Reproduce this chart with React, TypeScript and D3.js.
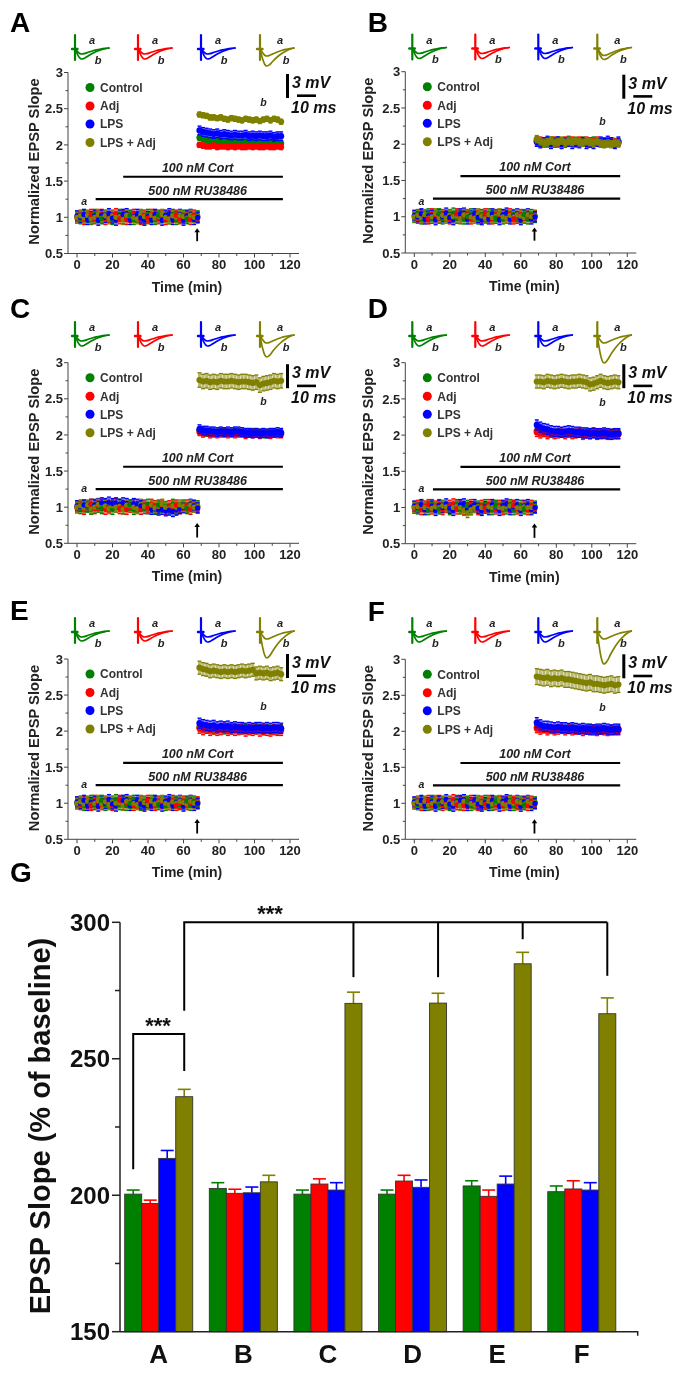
import React from "react";
import * as d3 from "d3";

const seriesNames = ["Control", "Adj", "LPS", "LPS + Adj"];
const seriesColors = ["#008000", "#ff0000", "#0000ff", "#808000"];
const panelIds = ["A", "B", "C", "D", "E", "F"];

// time axis of the slope panels
const baselineTimes = d3.range(0, 69, 2);
const postTimes = d3.range(69, 117, 2);
const timeTicks = [0, 20, 40, 60, 80, 100, 120];
const timeMinorTicks = [10, 30, 50, 70, 90, 110];
const slopeTicks = [0.5, 1, 1.5, 2, 2.5, 3];
const slopeMinorTicks = [0.75, 1.25, 1.75, 2.25, 2.75];

// baseline traces, 0-68 min
const baseControl = [1.01, 0.98, 1.03, 1.0, 0.97, 1.04, 1.0, 0.98, 1.03, 1.01, 0.97, 1.0, 1.04, 0.98, 1.01, 1.03, 0.97, 1.0, 1.02, 0.98, 1.04, 1.0, 0.97, 1.03, 1.0, 1.01, 0.98, 1.04, 0.97, 1.0, 1.03, 0.98, 1.01, 1.0, 1.02];
const baseAdj = [0.99, 1.03, 0.97, 1.02, 1.04, 0.98, 1.02, 1.04, 0.97, 1.0, 1.03, 1.05, 0.98, 1.02, 0.97, 1.0, 1.04, 1.01, 0.97, 1.03, 0.99, 1.04, 1.02, 0.98, 1.03, 0.97, 1.02, 1.0, 1.03, 0.98, 0.99, 1.03, 0.97, 1.03, 0.99];
const baseLps = [1.02, 1.0, 1.04, 0.97, 1.01, 1.02, 0.96, 1.03, 1.0, 1.05, 0.99, 0.96, 1.02, 1.04, 1.05, 0.97, 1.01, 1.04, 0.99, 0.96, 1.01, 0.97, 1.04, 1.01, 0.96, 1.03, 1.05, 0.97, 1.01, 1.04, 0.96, 1.02, 1.04, 0.97, 1.0];
const baseOlive = [1.0, 1.02, 0.99, 1.03, 0.98, 1.0, 1.04, 0.99, 1.02, 0.98, 1.02, 1.0, 1.01, 0.97, 1.03, 1.02, 1.0, 0.98, 1.04, 1.01, 0.98, 1.03, 0.99, 1.01, 1.04, 1.0, 0.98, 1.02, 1.0, 1.03, 1.01, 0.99, 1.03, 1.0, 1.01];
const baseLpsC = [1.02, 1.01, 1.03, 1.02, 1.04, 1.03, 1.05, 1.06, 1.05, 1.07, 1.05, 1.06, 1.04, 1.06, 1.05, 1.03, 1.05, 1.04, 1.02, 1.01, 0.98, 0.97, 0.98, 0.96, 0.97, 0.95, 0.96, 0.94, 0.96, 0.98, 1.0, 0.99, 1.04, 1.02, 0.99];
const baseOliveD = [1.0, 1.01, 1.03, 1.0, 1.02, 0.99, 1.01, 1.0, 1.02, 1.01, 0.99, 1.0, 1.02, 1.0, 0.96, 0.93, 0.97, 1.0, 1.01, 1.0, 0.99, 1.01, 1.0, 1.02, 1.0, 0.99, 1.01, 1.02, 1.03, 1.0, 0.99, 1.01, 1.0, 1.0, 1.01];

// after the arrow, 69-115 min
const postControlA = [2.1, 2.08, 2.07, 2.06, 2.06, 2.05, 2.05, 2.04, 2.05, 2.04, 2.04, 2.03, 2.04, 2.03, 2.03, 2.04, 2.03, 2.03, 2.02, 2.03, 2.03, 2.02, 2.03, 2.02];
const postAdjA = [2.0, 1.99, 1.98, 1.98, 1.99, 1.97, 1.98, 1.98, 1.97, 1.98, 1.97, 1.98, 1.97, 1.97, 1.98, 1.97, 1.98, 1.97, 1.97, 1.98, 1.97, 1.97, 1.98, 1.97];
const postLpsA = [2.2, 2.18, 2.17, 2.16, 2.15, 2.16, 2.14, 2.15, 2.14, 2.13, 2.14, 2.13, 2.13, 2.14, 2.12, 2.13, 2.12, 2.13, 2.12, 2.12, 2.13, 2.11, 2.12, 2.12];
const postOliveA = [2.42, 2.41, 2.4, 2.38, 2.38, 2.37, 2.38, 2.36, 2.35, 2.37, 2.36, 2.35, 2.34, 2.36, 2.35, 2.34, 2.35, 2.33, 2.35, 2.36, 2.34, 2.36, 2.35, 2.32];

const postControlB = [2.06, 2.02, 2.04, 2.01, 2.05, 2.03, 2.05, 2.02, 2.04, 2.06, 2.02, 2.04, 2.03, 2.05, 2.02, 2.04, 2.05, 2.02, 2.03, 2.01, 2.03, 2.02, 2.01, 2.03];
const postAdjB = [2.04, 2.05, 2.01, 2.04, 2.02, 2.05, 2.01, 2.04, 2.05, 2.02, 2.05, 2.01, 2.05, 2.02, 2.05, 2.01, 2.03, 2.05, 2.01, 2.04, 2.02, 2.04, 2.03, 2.02];
const postLpsB = [2.03, 2.01, 2.03, 2.05, 2.0, 2.02, 2.04, 2.0, 2.02, 2.03, 2.0, 2.03, 2.01, 2.03, 2.0, 2.02, 2.0, 2.03, 2.04, 2.02, 2.05, 2.03, 2.0, 2.04];
const postOliveB = [2.07, 2.04, 2.02, 2.03, 2.05, 2.02, 2.03, 2.05, 2.02, 2.04, 2.03, 2.05, 2.03, 2.02, 2.04, 2.03, 2.02, 2.04, 2.01, 2.0, 2.01, 2.0, 2.02, 2.01];

const postControlFlat = [2.06, 2.05, 2.03, 2.04, 2.02, 2.03, 2.04, 2.02, 2.03, 2.02, 2.04, 2.03, 2.02, 2.03, 2.02, 2.04, 2.02, 2.03, 2.01, 2.03, 2.02, 2.03, 2.02, 2.03];
const postAdjFlat = [2.04, 2.02, 2.04, 2.01, 2.03, 2.01, 2.02, 2.04, 2.01, 2.03, 2.01, 2.02, 2.03, 2.0, 2.02, 2.01, 2.03, 2.0, 2.02, 2.01, 2.0, 2.02, 2.01, 2.01];
const postLpsC = [2.08, 2.06, 2.06, 2.05, 2.05, 2.04, 2.05, 2.04, 2.05, 2.04, 2.05, 2.05, 2.04, 2.03, 2.03, 2.02, 2.03, 2.02, 2.03, 2.02, 2.03, 2.03, 2.04, 2.03];
const postOliveC = [2.76, 2.74, 2.75, 2.73, 2.74, 2.73, 2.75, 2.74, 2.74, 2.75, 2.74, 2.73, 2.74, 2.74, 2.73, 2.72, 2.73, 2.69, 2.71, 2.72, 2.73, 2.75, 2.74, 2.75];
const postLpsD = [2.14, 2.11, 2.09, 2.08, 2.06, 2.05, 2.05, 2.04, 2.05, 2.06, 2.05, 2.04, 2.04, 2.03, 2.03, 2.02, 2.03, 2.02, 2.02, 2.03, 2.02, 2.01, 2.02, 2.02];
const postOliveD = [2.74, 2.74, 2.73, 2.75, 2.74, 2.73, 2.74, 2.75, 2.74, 2.73, 2.74, 2.74, 2.75, 2.74, 2.73, 2.7, 2.71, 2.73, 2.75, 2.73, 2.72, 2.73, 2.74, 2.73];
const postLpsE = [2.11, 2.09, 2.08, 2.07, 2.08, 2.06, 2.07, 2.06, 2.07, 2.05, 2.06, 2.05, 2.05, 2.04, 2.05, 2.04, 2.05, 2.05, 2.04, 2.05, 2.04, 2.05, 2.05, 2.04];
const postOliveE = [2.88, 2.86, 2.85, 2.83, 2.84, 2.83, 2.82, 2.83, 2.82, 2.83, 2.82, 2.83, 2.84, 2.83, 2.84, 2.85, 2.8, 2.81, 2.8, 2.81, 2.79, 2.8, 2.81, 2.79];
const postLpsF = [2.12, 2.09, 2.07, 2.07, 2.06, 2.05, 2.06, 2.05, 2.05, 2.04, 2.05, 2.04, 2.03, 2.04, 2.03, 2.03, 2.02, 2.03, 2.03, 2.04, 2.03, 2.02, 2.03, 2.03];
const postOliveF = [2.76, 2.75, 2.74, 2.75, 2.73, 2.74, 2.73, 2.74, 2.72, 2.72, 2.71, 2.7, 2.69, 2.68, 2.67, 2.68, 2.66, 2.66, 2.65, 2.64, 2.65, 2.66, 2.64, 2.65];

// error sizes per series
const semBaseline = [0.07, 0.07, 0.07, 0.07];
const semPostA = [0.04, 0.035, 0.06, 0.035];
const semPostB = [0.05, 0.05, 0.06, 0.05];
const semPostC = [0.05, 0.05, 0.06, 0.1];
const semPostD = [0.05, 0.06, 0.07, 0.09];
const semPostE = [0.06, 0.07, 0.07, 0.09];
const semPostF = [0.05, 0.06, 0.07, 0.11];

// sample traces: shared shape, depth per panel
const traceTimes = [0, 2, 4, 6, 8, 10, 12, 16, 20, 24, 28, 32];
const traceShape = [0.15, 0.6, 0.9, 1, 0.95, 0.85, 0.72, 0.5, 0.32, 0.18, 0.07, 0];
const depthA = [6, 6, 6, 8];
const depthBA = [11, 11, 11, 18];
const depthBB = [11, 11, 11, 12];
const depthBC = [11, 11, 11, 22];
const depthBD = [11, 11, 11, 28];
const depthBE = [10, 10, 11, 27];
const depthBF = [11, 11, 11, 33];

// bar panel
const barMeans = {
  Control: [200.4, 202.5, 200.4, 200.4, 203.4, 201.3],
  Adj: [197, 200.7, 204.1, 205.2, 199.6, 202.3],
  LPS: [213.5, 200.9, 201.9, 202.9, 204.1, 201.9],
  "LPS + Adj": [236.1, 204.9, 270.3, 270.4, 284.8, 266.5],
};
const barErrors = {
  Control: [1.5, 2.1, 1.5, 1.5, 1.9, 2.1],
  Adj: [1.2, 1.5, 1.9, 2.1, 2.3, 3],
  LPS: [2.9, 2.1, 2.7, 2.7, 2.9, 2.7],
  "LPS + Adj": [2.7, 2.4, 4.1, 3.6, 4.2, 5.8],
};
const barTicks = [150, 200, 250, 300];
const barMinorTicks = [175, 225, 275];
const bracketDropIds = ["C", "D", "E", "F"];
const bracketDropEnds = [279.9, 279.9, 293.8, 280.4];

const panels = [
  { id: "A", x0: 77, y3: 72.5, y05: 253.5, letterY: 32, traceTop: 35, depthB: depthBA, sem: semPostA, base: [baseControl, baseAdj, baseLps, baseOlive], post: [postControlA, postAdjA, postLpsA, postOliveA], aAt: 1.21, bAt: [105, 2.58], arrow: [0.85, 0.67], barShift: 0 },
  { id: "B", x0: 414.3, y3: 71.7, y05: 253, letterY: 32, traceTop: 34.5, depthB: depthBB, sem: semPostB, base: [baseAdj, baseControl, baseLps, baseOlive], post: [postControlB, postAdjB, postLpsB, postOliveB], aAt: 1.2, bAt: [106, 2.3], arrow: [0.85, 0.67], barShift: 1.5 },
  { id: "C", x0: 77, y3: 362.7, y05: 543.3, letterY: 318, traceTop: 322, depthB: depthBC, sem: semPostC, base: [baseControl, baseAdj, baseLpsC, baseOlive], post: [postControlFlat, postAdjFlat, postLpsC, postOliveC], aAt: 1.25, bAt: [105, 2.45], arrow: [0.78, 0.58], barShift: 0 },
  { id: "D", x0: 414.3, y3: 362.7, y05: 543.7, letterY: 318, traceTop: 322, depthB: depthBD, sem: semPostD, base: [baseControl, baseAdj, baseLps, baseOliveD], post: [postControlFlat, postAdjFlat, postLpsD, postOliveD], aAt: 1.25, bAt: [106, 2.45], arrow: [0.78, 0.58], barShift: 0 },
  { id: "E", x0: 77, y3: 659, y05: 839.3, letterY: 620, traceTop: 618, depthB: depthBE, sem: semPostE, base: [baseAdj, baseControl, baseLps, baseOlive], post: [postControlFlat, postAdjFlat, postLpsE, postOliveE], aAt: 1.25, bAt: [105, 2.33], arrow: [0.78, 0.58], barShift: -6.5 },
  { id: "F", x0: 414.3, y3: 659.3, y05: 839.3, letterY: 620.7, traceTop: 618, depthB: depthBF, sem: semPostF, base: [baseControl, baseAdj, baseLps, baseOlive], post: [postControlFlat, postAdjFlat, postLpsF, postOliveF], aAt: 1.25, bAt: [106, 2.32], arrow: [0.78, 0.58], barShift: -6.5 },
];

const font = "'Liberation Sans', Arial, sans-serif";
const ink = "#222";
// which series ends up on top at each baseline point, so the band looks mixed
const topCycle = [3, 3, 2, 3, 1, 3, 3, 0];

function Trace({ ox, top, color, depthLow, depthHigh }: any) {
  const x = d3.scaleLinear([0, 32], [ox + 3.5, ox + 37]);
  const curve = (depth: number) => {
    const y = d3.scaleLinear([0, 1], [top + 13, top + 13 + depth]);
    return d3.line<number>()
      .x((_, i) => x(traceTimes[i]))
      .y((d) => y(d))
      .curve(d3.curveMonotoneX)(traceShape) as string;
  };
  return (
    <g fill="none" stroke={color} strokeLinecap="round">
      <line x1={ox + 3} x2={ox + 3} y1={top} y2={top + 25} strokeWidth={2.2} />
      <line x1={ox} x2={ox + 5.5} y1={top + 14} y2={top + 14} strokeWidth={2.4} />
      <path d={curve(depthLow)} strokeWidth={1.7} />
      <path d={curve(depthHigh)} strokeWidth={1.7} />
    </g>
  );
}

function ErrorBar({ cx, low, high, color }: any) {
  return (
    <g stroke={color}>
      <line x1={cx} x2={cx} y1={low} y2={high} strokeWidth={3} strokeOpacity={0.55} />
      <line x1={cx - 2} x2={cx + 2} y1={high} y2={high} strokeWidth={1.3} />
      <line x1={cx - 2} x2={cx + 2} y1={low} y2={low} strokeWidth={1.3} />
    </g>
  );
}

function BaselineBand({ p, x, y }: any) {
  return (
    <g>
      {baselineTimes.map((t, i) => {
        const top = topCycle[i % topCycle.length];
        const order = [0, 1, 2, 3].filter((s) => s !== top).concat(top);
        return (
          <g key={t}>
            {order.map((s) => (
              <ErrorBar key={s} cx={x(t)} low={y(p.base[s][i] - semBaseline[s])} high={y(p.base[s][i] + semBaseline[s])} color={seriesColors[s]} />
            ))}
            {order.map((s) => (
              <circle key={s} cx={x(t)} cy={y(p.base[s][i])} r={2.6} fill={seriesColors[s]} />
            ))}
          </g>
        );
      })}
    </g>
  );
}

function PostSeries({ values, sem, color, x, y }: any) {
  return (
    <g>
      {values.map((v: number, i: number) => (
        <ErrorBar key={i} cx={x(postTimes[i])} low={y(v - sem)} high={y(v + sem)} color={color} />
      ))}
      {values.map((v: number, i: number) => (
        <circle key={i} cx={x(postTimes[i])} cy={y(v)} r={3.1} fill={color} />
      ))}
    </g>
  );
}

function SlopePanel({ p, index }: any) {
  const x = d3.scaleLinear([0, 120], [p.x0, p.x0 + 213]);
  const y = d3.scaleLinear([0.5, 3], [p.y05, p.y3]);
  const axisX = p.x0 - 9;
  const axisEnd = p.x0 + 222;
  const traceOffsets = [-5, 58, 121, 180];
  const nudge = index % 2 ? -1 : 0;
  const legendRows = [15, 33.5, 51.5, 70];
  const arrowX = x(67.7);
  return (
    <g fontFamily={font} fill={ink}>
      <text x={p.x0 - (index % 2 ? 46.5 : 67)} y={p.letterY} fontSize={28} fontWeight={700} fill="#000">{p.id}</text>

      {seriesColors.map((c, i) => (
        <g key={c}>
          <Trace ox={p.x0 + traceOffsets[i]} top={p.traceTop} color={c} depthLow={depthA[i]} depthHigh={p.depthB[i]} />
          <text x={p.x0 + traceOffsets[i] + 20 + (i === 3 ? 3 : 0)} y={p.traceTop + 9} fontSize={11} fontWeight={700} fontStyle="italic" textAnchor="middle">a</text>
          <text x={p.x0 + traceOffsets[i] + 26 + (i === 3 ? 3 : 0)} y={p.traceTop + 28.5} fontSize={11} fontWeight={700} fontStyle="italic" textAnchor="middle">b</text>
        </g>
      ))}

      {/* axes */}
      <g stroke="#444" strokeWidth={1}>
        <line x1={axisX} x2={axisX} y1={y(3)} y2={y(0.5)} />
        <line x1={axisX} x2={axisEnd} y1={y(0.5)} y2={y(0.5)} />
        {slopeTicks.map((t) => <line key={t} x1={axisX - 4} x2={axisX} y1={y(t)} y2={y(t)} />)}
        {slopeMinorTicks.map((t) => <line key={t} x1={axisX - 2.5} x2={axisX} y1={y(t)} y2={y(t)} />)}
        {timeTicks.map((t) => <line key={t} x1={x(t)} x2={x(t)} y1={y(0.5)} y2={y(0.5) + 4} />)}
        {timeMinorTicks.map((t) => <line key={t} x1={x(t)} x2={x(t)} y1={y(0.5)} y2={y(0.5) + 2.5} />)}
      </g>
      {slopeTicks.map((t) => (
        <text key={t} x={axisX - 5} y={y(t) + 4.6} fontSize={13} fontWeight={700} textAnchor="end">{t}</text>
      ))}
      {timeTicks.map((t) => (
        <text key={t} x={x(t)} y={y(0.5) + 15.5} fontSize={13} fontWeight={700} textAnchor="middle">{t}</text>
      ))}
      <text x={p.x0 + 110} y={y(0.5) + 38} fontSize={14} fontWeight={700} textAnchor="middle">Time (min)</text>
      <text transform={`translate(${p.x0 - (index % 2 ? 41 : 38)},${p.y3 + 89}) rotate(-90)`} fontSize={14.7} fontWeight={700} textAnchor="middle">Normalized EPSP Slope</text>

      {/* legend */}
      {seriesNames.map((name, i) => (
        <g key={name}>
          <circle cx={p.x0 + 13} cy={p.y3 + legendRows[i]} r={4.5} fill={seriesColors[i]} />
          <text x={p.x0 + 23} y={p.y3 + legendRows[i] + 4.3} fontSize={12} fontWeight={700} fill="#333">{name}</text>
        </g>
      ))}

      {/* scale bar */}
      <g stroke="#000">
        <line x1={p.x0 + 210.5 + nudge} x2={p.x0 + 210.5 + nudge} y1={p.y3 + 1.5 + p.barShift} y2={p.y3 + 25.5 + p.barShift} strokeWidth={3} />
        <line x1={p.x0 + 220 + nudge} x2={p.x0 + 239 + nudge} y1={p.y3 + 23.2 + p.barShift} y2={p.y3 + 23.2 + p.barShift} strokeWidth={2.6} />
      </g>
      <text x={p.x0 + 215 + nudge} y={p.y3 + 15.5 + p.barShift} fontSize={16} fontWeight={700} fontStyle="italic" fill="#111">3 mV</text>
      <text x={p.x0 + 214 + nudge} y={p.y3 + 40.5 + p.barShift} fontSize={16} fontWeight={700} fontStyle="italic" fill="#111">10 ms</text>

      {/* drug bars */}
      <g stroke="#000" strokeWidth={2.2}>
        <line x1={x(26)} x2={x(116)} y1={y(1.56)} y2={y(1.56)} />
        <line x1={x(10.5)} x2={x(116)} y1={y(1.25)} y2={y(1.25)} />
      </g>
      <text x={x(68)} y={y(1.56) - 5} fontSize={12.5} fontWeight={700} fontStyle="italic" textAnchor="middle">100 nM Cort</text>
      <text x={x(68)} y={y(1.25) - 4.5} fontSize={12.5} fontWeight={700} fontStyle="italic" textAnchor="middle">500 nM RU38486</text>
      <text x={x(4)} y={y(p.aAt) + 3} fontSize={10.5} fontWeight={700} fontStyle="italic" textAnchor="middle">a</text>
      <text x={x(p.bAt[0])} y={y(p.bAt[1]) + 3} fontSize={10.5} fontWeight={700} fontStyle="italic" textAnchor="middle">b</text>

      {/* data */}
      <BaselineBand p={p} x={x} y={y} />
      {seriesColors.map((c, i) => (
        <PostSeries key={c} values={p.post[i]} sem={p.sem[i]} color={c} x={x} y={y} />
      ))}

      {/* arrow */}
      <line x1={arrowX} x2={arrowX} y1={y(p.arrow[0]) + 3} y2={y(p.arrow[1])} stroke="#000" strokeWidth={1.8} />
      <path d={`M${arrowX - 2.8},${y(p.arrow[0]) + 4}L${arrowX},${y(p.arrow[0])}L${arrowX + 2.8},${y(p.arrow[0]) + 4}Z`} fill="#000" />
    </g>
  );
}

function BarPanel() {
  const y = d3.scaleLinear([150, 300], [1331.7, 922.3]);
  const group = d3.scaleBand<string>().domain(panelIds).range([124.7, 615.8]).paddingInner(0.196);
  const inner = d3.scaleBand<string>().domain(seriesNames).range([0, group.bandwidth()]);
  const center = (id: string, name: string) => (group(id) as number) + (inner(name) as number) + inner.bandwidth() / 2;
  const olive = "LPS + Adj";
  return (
    <g fontFamily={font}>
      <text x={10} y={881.7} fontSize={28} fontWeight={700}>G</text>

      {seriesNames.map((name, s) => (
        <g key={name}>
          {panelIds.map((id, g) => {
            const cx = center(id, name);
            const mean = (barMeans as any)[name][g];
            const err = (barErrors as any)[name][g];
            return (
              <g key={id}>
                <g stroke={seriesColors[s]} strokeWidth={1.6}>
                  <line x1={cx} x2={cx} y1={y(mean)} y2={y(mean + err)} />
                  <line x1={cx - 6.5} x2={cx + 6.5} y1={y(mean + err)} y2={y(mean + err)} />
                </g>
                <rect x={cx - inner.bandwidth() / 2} y={y(mean)} width={inner.bandwidth()} height={y(150) - y(mean)} fill={seriesColors[s]} stroke="#333" strokeWidth={0.9} />
              </g>
            );
          })}
        </g>
      ))}

      <g stroke="#222" strokeWidth={1.5} fill="none">
        <line x1={120} x2={120} y1={y(300)} y2={y(150)} />
        <path d={`M120,${y(150)}H637.7V${y(150) + 4}`} />
        {barTicks.map((t) => <line key={t} x1={112} x2={120} y1={y(t)} y2={y(t)} />)}
        {barMinorTicks.map((t) => <line key={t} x1={115} x2={120} y1={y(t)} y2={y(t)} />)}
      </g>
      {barTicks.map((t) => (
        <text key={t} x={110} y={y(t) + 8.5} fontSize={24} fontWeight={700} textAnchor="end" fill="#111">{t}</text>
      ))}
      {panelIds.map((id) => (
        <text key={id} x={(group(id) as number) + group.bandwidth() / 2} y={1362.7} fontSize={26} fontWeight={700} textAnchor="middle" fill="#111">{id}</text>
      ))}
      <text transform="translate(50,1126) rotate(-90)" fontSize={29} fontWeight={700} textAnchor="middle" fill="#111">EPSP Slope (% of baseline)</text>

      {/* significance brackets */}
      <g stroke="#000" strokeWidth={2} fill="none">
        <path d={`M${center("A", olive)},${y(267.6)}V${y(300)}H${center("F", olive)}`} />
        {bracketDropIds.map((id, i) => (
          <line key={id} x1={center(id, olive)} x2={center(id, olive)} y1={y(300)} y2={y(bracketDropEnds[i])} />
        ))}
        <path d={`M${center("A", "Control")},${y(209.5)}V${y(259.1)}H${center("A", olive)}V${y(245.5)}`} />
      </g>
      <text x={270} y={921} fontSize={22} fontWeight={700} textAnchor="middle" fill="#111">***</text>
      <text x={158} y={1033} fontSize={22} fontWeight={700} textAnchor="middle" fill="#111">***</text>
    </g>
  );
}

export default function App() {
  return (
    <svg width={693} height={1377} style={{ position: "absolute", left: 0, top: 0, background: "#fff", filter: "blur(0.4px)" }}>
      {panels.map((p, i) => <SlopePanel key={p.id} p={p} index={i} />)}
      <BarPanel />
    </svg>
  );
}
